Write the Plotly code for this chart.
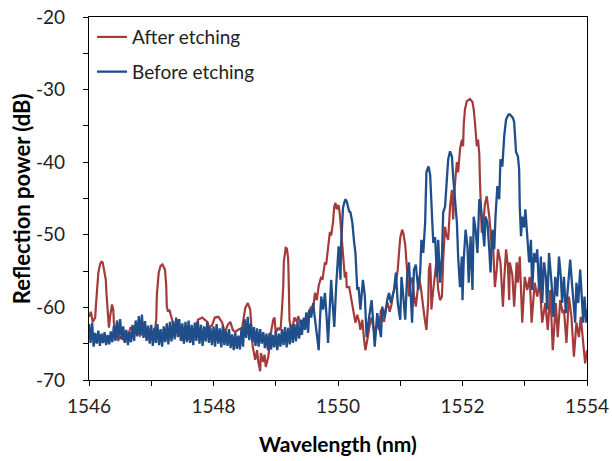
import numpy as np
import plotly.graph_objects as go

# ---------------- data ----------------
after_wl = [1546.00, 1546.03, 1546.06, 1546.10, 1546.11, 1546.14, 1546.15, 1546.18, 1546.20, 1546.22,
            1546.24, 1546.27, 1546.28, 1546.30, 1546.32, 1546.34, 1546.37, 1546.39, 1546.40, 1546.43,
            1546.47, 1546.51, 1546.56, 1546.61, 1546.64, 1546.67, 1546.72, 1546.77, 1546.82, 1546.87,
            1546.92, 1546.98, 1547.03, 1547.06, 1547.08, 1547.09, 1547.12, 1547.15, 1547.18, 1547.22,
            1547.24, 1547.25, 1547.27, 1547.29, 1547.31, 1547.33, 1547.37, 1547.40, 1547.43, 1547.46,
            1547.51, 1547.57, 1547.65, 1547.70, 1547.75, 1547.82, 1547.86, 1547.90, 1547.93, 1547.98,
            1548.02, 1548.08, 1548.14, 1548.18, 1548.23, 1548.27, 1548.31, 1548.35, 1548.39, 1548.46,
            1548.51, 1548.55, 1548.59, 1548.60, 1548.63, 1548.67, 1548.70, 1548.72, 1548.75, 1548.76,
            1548.80, 1548.82, 1548.84, 1548.88, 1548.91, 1548.93, 1548.96, 1548.98, 1549.00, 1549.04,
            1549.06, 1549.08, 1549.10, 1549.12, 1549.13, 1549.16, 1549.18, 1549.20, 1549.21, 1549.22,
            1549.25, 1549.28, 1549.30, 1549.34, 1549.36, 1549.41, 1549.44, 1549.49, 1549.52, 1549.57,
            1549.60, 1549.63, 1549.66, 1549.69, 1549.73, 1549.75, 1549.79, 1549.81, 1549.84, 1549.87,
            1549.89, 1549.92, 1549.94, 1549.96, 1549.98, 1550.01, 1550.03, 1550.05, 1550.06, 1550.08,
            1550.11, 1550.13, 1550.14, 1550.18, 1550.20, 1550.23, 1550.26, 1550.28, 1550.31, 1550.34,
            1550.36, 1550.39, 1550.42, 1550.44, 1550.47, 1550.50, 1550.53, 1550.56, 1550.59, 1550.63,
            1550.66, 1550.69, 1550.71, 1550.74, 1550.77, 1550.80, 1550.83, 1550.86, 1550.88, 1550.93,
            1550.96, 1550.98, 1551.00, 1551.03, 1551.05, 1551.08, 1551.10, 1551.12, 1551.14, 1551.16,
            1551.19, 1551.22, 1551.25, 1551.28, 1551.30, 1551.33, 1551.36, 1551.39, 1551.42, 1551.45,
            1551.46, 1551.48, 1551.49, 1551.50, 1551.53, 1551.56, 1551.58, 1551.61, 1551.64, 1551.67,
            1551.69, 1551.72, 1551.74, 1551.77, 1551.80, 1551.83, 1551.85, 1551.88, 1551.91, 1551.93,
            1551.96, 1551.99, 1552.01, 1552.02, 1552.04, 1552.07, 1552.12, 1552.16, 1552.18, 1552.20,
            1552.23, 1552.25, 1552.27, 1552.28, 1552.31, 1552.33, 1552.36, 1552.39, 1552.41, 1552.43,
            1552.47, 1552.49, 1552.52, 1552.55, 1552.57, 1552.61, 1552.63, 1552.65, 1552.67, 1552.70,
            1552.73, 1552.75, 1552.76, 1552.80, 1552.83, 1552.87, 1552.89, 1552.92, 1552.96, 1553.00,
            1553.04, 1553.08, 1553.11, 1553.16, 1553.20, 1553.24, 1553.28, 1553.33, 1553.37, 1553.41,
            1553.45, 1553.50, 1553.53, 1553.57, 1553.61, 1553.63, 1553.67, 1553.71, 1553.75, 1553.79,
            1553.83, 1553.87, 1553.90, 1553.94, 1553.97, 1554.00]
after_db = [-61.3, -60.6, -62.0, -61.4, -59.9, -56.9, -55.2, -54.0, -53.7, -53.8,
            -54.8, -56.2, -58.0, -60.3, -62.8, -61.2, -59.6, -60.3, -62.1, -63.8,
            -64.5, -64.1, -64.5, -63.9, -63.5, -62.7, -63.5, -63.1, -63.9, -63.3,
            -64.1, -63.5, -64.1, -63.1, -61.7, -58.3, -55.2, -54.3, -54.1, -54.8,
            -56.9, -59.9, -60.6, -60.3, -60.9, -61.7, -62.8, -62.4, -61.7, -63.8,
            -64.5, -64.2, -64.5, -63.4, -61.7, -61.4, -61.7, -62.0, -62.8, -62.4,
            -61.4, -61.3, -62.1, -63.5, -62.4, -62.0, -63.1, -63.4, -63.1, -62.8,
            -60.1, -59.4, -60.3, -61.3, -65.4, -67.2, -65.9, -67.5, -68.8, -66.3,
            -67.5, -66.5, -68.2, -66.8, -64.5, -63.1, -61.7, -61.4, -63.5, -62.8,
            -63.1, -62.8, -60.3, -57.2, -53.7, -51.8, -51.9, -53.4, -56.9, -61.7,
            -63.5, -62.4, -61.4, -62.0, -61.2, -62.7, -62.0, -62.4, -60.9, -59.9,
            -60.3, -58.0, -59.0, -57.0, -55.8, -56.2, -53.8, -54.1, -51.6, -49.6,
            -50.1, -48.3, -46.1, -45.6, -46.5, -45.9, -47.2, -49.3, -51.4, -53.0,
            -55.9, -55.1, -57.2, -57.2, -58.3, -59.4, -61.0, -62.1, -61.0, -62.0,
            -63.1, -61.7, -64.5, -65.9, -64.5, -63.1, -61.4, -62.4, -63.8, -62.1,
            -63.1, -60.3, -61.4, -62.0, -60.1, -59.4, -60.6, -59.6, -58.3, -56.6,
            -54.8, -52.5, -50.4, -49.3, -49.8, -51.4, -54.1, -56.9, -58.5, -56.6,
            -55.9, -58.3, -59.9, -57.6, -55.8, -57.2, -59.6, -61.4, -63.1, -59.0,
            -54.8, -53.9, -55.5, -60.3, -57.6, -54.8, -53.8, -57.6, -59.0, -58.5,
            -53.4, -48.9, -50.0, -50.7, -46.1, -43.8, -47.9, -42.8, -40.0, -41.4,
            -38.2, -36.9, -37.8, -34.8, -32.7, -31.6, -31.3, -31.7, -32.7, -34.5,
            -37.8, -36.9, -38.9, -42.4, -49.7, -48.9, -45.8, -44.7, -45.8, -47.5,
            -51.6, -51.1, -57.2, -54.8, -52.0, -53.8, -56.9, -59.9, -56.2, -52.0,
            -54.4, -59.0, -53.8, -55.5, -59.9, -53.8, -56.6, -53.0, -62.1, -55.8,
            -57.6, -55.8, -62.1, -56.6, -58.5, -56.6, -62.1, -59.4, -63.1, -57.6,
            -65.9, -59.4, -64.1, -59.0, -60.8, -60.3, -64.9, -58.5, -61.3, -66.8,
            -62.1, -64.1, -61.3, -64.9, -67.7, -65.9]

# Before etching: densely sampled noisy floor (0.025 nm grid from 1546.000 to 1549.375)
before_floor_db = [
    -62.3, -64.9, -62.1, -65.4,  -63.5, -65.0, -63.2, -65.3,  -63.6, -64.9, -63.4, -65.2,
    -63.8, -65.1, -63.3, -64.8,  -62.5, -64.6, -61.8, -64.2,  -61.6, -64.4, -62.6, -64.9,
    -63.1, -65.2, -63.4, -64.8,  -62.4, -64.6, -61.8, -64.0,  -61.2, -63.8, -61.0, -64.2,
    -61.9, -64.6, -62.5, -65.0,  -62.4, -65.3, -62.8, -64.9,  -62.3, -65.2, -63.0, -65.4,
    -62.6, -64.8, -62.2, -65.1,  -62.0, -64.7, -61.9, -64.4,  -61.4, -64.1, -61.6, -64.6,
    -62.2, -65.0, -62.0, -64.8,  -61.8, -64.9, -62.4, -65.2,  -62.1, -64.6, -61.9, -65.0,
    -62.4, -65.3, -62.6, -64.7,  -62.0, -64.9, -62.8, -65.2,  -62.6, -65.4, -62.3, -65.0,
    -62.9, -65.5, -62.5, -65.2,  -63.2, -65.3, -63.0, -65.6,  -63.7, -65.9, -63.5, -65.7,
    -63.9, -65.8, -62.8, -65.4,  -61.6, -64.2, -61.3, -64.5,  -62.2, -64.8, -62.7, -65.3,
    -62.9, -65.4, -63.0, -65.0,  -63.4, -65.6, -63.6, -65.9,  -63.5, -65.8, -63.8, -65.5,
    -63.3, -65.9, -63.6, -65.4,  -63.0, -65.2, -62.7, -65.5,  -62.8, -65.1, -62.4, -64.9,
    -62.3, -64.7, -62.0, -64.3]
before_floor_wl = list(np.round(1546.0 + 0.025 * np.arange(len(before_floor_db)), 3))

before_peak_wl = [1549.41, 1549.42, 1549.45, 1549.47, 1549.49, 1549.52, 1549.54, 1549.57, 1549.60, 1549.63,
                  1549.66, 1549.69, 1549.71, 1549.73, 1549.76, 1549.79, 1549.82, 1549.84, 1549.86, 1549.89,
                  1549.91, 1549.94, 1549.97, 1549.99, 1550.01, 1550.03, 1550.04, 1550.05, 1550.065, 1550.08,
                  1550.10, 1550.12, 1550.14, 1550.16, 1550.18, 1550.20, 1550.23, 1550.26, 1550.28, 1550.31,
                  1550.33, 1550.36, 1550.40, 1550.43, 1550.46, 1550.50, 1550.54, 1550.56, 1550.59, 1550.63,
                  1550.66, 1550.69, 1550.71, 1550.75, 1550.79, 1550.82, 1550.85, 1550.88, 1550.90, 1550.93,
                  1550.96, 1551.00, 1551.02, 1551.04, 1551.08, 1551.11, 1551.14, 1551.17, 1551.19, 1551.22,
                  1551.25, 1551.29, 1551.32, 1551.34, 1551.37, 1551.40, 1551.41, 1551.42, 1551.45, 1551.46,
                  1551.48, 1551.50, 1551.52, 1551.53, 1551.56, 1551.59, 1551.61, 1551.64, 1551.67, 1551.69,
                  1551.72, 1551.75, 1551.77, 1551.80, 1551.83, 1551.85, 1551.88, 1551.91, 1551.93, 1551.96,
                  1551.99, 1552.00, 1552.02, 1552.05, 1552.08, 1552.10, 1552.13, 1552.16, 1552.18, 1552.21,
                  1552.24, 1552.27, 1552.29, 1552.32, 1552.35, 1552.37, 1552.40, 1552.43, 1552.45, 1552.48,
                  1552.51, 1552.53, 1552.56, 1552.59, 1552.61, 1552.64, 1552.67, 1552.70, 1552.74, 1552.76,
                  1552.79, 1552.81, 1552.83, 1552.85, 1552.86, 1552.89, 1552.91, 1552.92, 1552.94, 1552.96,
                  1552.99, 1553.01, 1553.04, 1553.07, 1553.10, 1553.12, 1553.15, 1553.18, 1553.20, 1553.23,
                  1553.26, 1553.28, 1553.31, 1553.34, 1553.36, 1553.39, 1553.43, 1553.46, 1553.49, 1553.52,
                  1553.55, 1553.58, 1553.60, 1553.63, 1553.66, 1553.69, 1553.73, 1553.75, 1553.78, 1553.81,
                  1553.83, 1553.86, 1553.89, 1553.91, 1553.94, 1553.96, 1553.99, 1554.00]
before_peak_db = [-61.7, -63.8, -61.4, -63.1, -60.7, -63.5, -60.3, -61.4, -59.4, -61.7,
                  -64.1, -65.9, -61.7, -58.5, -60.3, -58.0, -61.7, -64.9, -61.4, -56.2,
                  -59.0, -62.7, -57.2, -53.7, -51.6, -54.5, -56.2, -51.4, -47.9, -46.3,
                  -45.6, -45.1, -45.4, -46.2, -46.8, -46.9, -48.3, -51.1, -52.5, -57.6,
                  -57.2, -60.3, -56.2, -58.3, -64.1, -61.3, -59.0, -61.4, -65.4, -60.8,
                  -62.4, -64.1, -59.9, -61.4, -59.0, -58.0, -59.4, -58.3, -57.6, -55.2,
                  -59.4, -61.7, -55.8, -57.6, -61.7, -55.8, -53.8, -58.5, -62.1, -54.8,
                  -54.1, -57.6, -55.2, -50.7, -52.5, -48.3, -44.4, -41.4, -40.6, -40.8,
                  -41.7, -45.1, -48.6, -51.1, -50.3, -55.8, -50.7, -56.6, -53.0, -46.9,
                  -46.1, -42.4, -39.6, -38.5, -39.2, -42.0, -45.6, -48.3, -53.0, -57.2,
                  -53.0, -59.0, -53.4, -49.3, -51.6, -56.6, -50.2, -57.6, -47.5, -49.3,
                  -52.5, -45.1, -45.6, -49.3, -51.6, -47.5, -48.3, -52.0, -55.2, -49.3,
                  -52.0, -47.5, -43.3, -45.1, -39.6, -40.6, -36.4, -34.1, -33.4, -33.4,
                  -33.7, -33.9, -34.5, -36.9, -38.6, -39.2, -41.0, -46.1, -50.2, -47.5,
                  -49.0, -46.5, -50.2, -53.8, -50.7, -57.6, -52.5, -53.8, -52.0, -57.6,
                  -53.0, -59.4, -53.8, -55.8, -60.3, -52.5, -56.6, -61.3, -55.8, -58.5,
                  -53.0, -55.8, -59.4, -55.8, -60.8, -57.6, -53.4, -55.8, -58.5, -62.1,
                  -56.6, -59.4, -54.8, -57.6, -62.1, -58.5, -62.1, -60.3]

before_wl = before_floor_wl + before_peak_wl
before_db = before_floor_db + before_peak_db

x_tick_vals = [1546, 1548, 1550, 1552, 1554]
x_tick_text = ["1546", "1548", "1550", "1552", "1554"]
y_tick_vals = [-70, -60, -50, -40, -30, -20]
y_tick_text = ["-70", "-60", "-50", "-40", "-30", "-20"]
x_title = "Wavelength (nm)"
y_title = "Reflection power (dB)"

RED = "#A43B3B"
BLUE = "#1F4E8A"
FONT = "Lato, 'Open Sans', sans-serif"

fig = go.Figure()
fig.add_trace(go.Scatter(x=after_wl, y=after_db, mode="lines", name="After etching",
                         legendgroup="a", line=dict(color=RED, width=2.2)))
fig.add_trace(go.Scatter(x=before_wl, y=before_db, mode="lines", name="Before etching",
                         legendgroup="b", line=dict(color=BLUE, width=2.3)))

axis_common = dict(showgrid=False, zeroline=False, showline=True, linecolor="black", linewidth=1.3,
                   mirror=True, ticks="outside", ticklen=5, tickwidth=1.3, tickcolor="black",
                   automargin=False,
                   tickfont=dict(family=FONT, size=19, color="#222"))

fig.update_xaxes(range=[1546, 1554], tickvals=x_tick_vals, ticktext=x_tick_text,
                 minor=dict(dtick=1, ticks="outside", ticklen=5, tickwidth=1.3, tickcolor="black"),
                 ticklabelstandoff=4, **axis_common)
fig.update_yaxes(range=[-70, -20], tickvals=y_tick_vals, ticktext=y_tick_text,
                 minor=dict(dtick=5, ticks="outside", ticklen=5, tickwidth=1.3, tickcolor="black"),
                 ticklabelstandoff=14, **axis_common)

fig.update_layout(
    width=612, height=461,
    margin=dict(l=89, r=25, t=17, b=81),
    paper_bgcolor="white", plot_bgcolor="white",
    showlegend=True,
    legend=dict(x=0.006, y=0.997, xanchor="left", yanchor="top", bgcolor="rgba(0,0,0,0)",
                font=dict(family=FONT, size=19, color="#222"), tracegroupgap=7,
                itemwidth=30),
    annotations=[
        dict(text="<b>" + x_title + "</b>", xref="paper", yref="paper", x=0.5, y=-0.174,
             xanchor="center", yanchor="middle", showarrow=False,
             font=dict(family=FONT, size=21, color="black")),
        dict(text="<b>" + y_title + "</b>", xref="paper", yref="paper", x=-0.135, y=0.5,
             xanchor="center", yanchor="middle", showarrow=False, textangle=-90,
             font=dict(family=FONT, size=22, color="black")),
    ],
)

fig.write_html("out.html")
